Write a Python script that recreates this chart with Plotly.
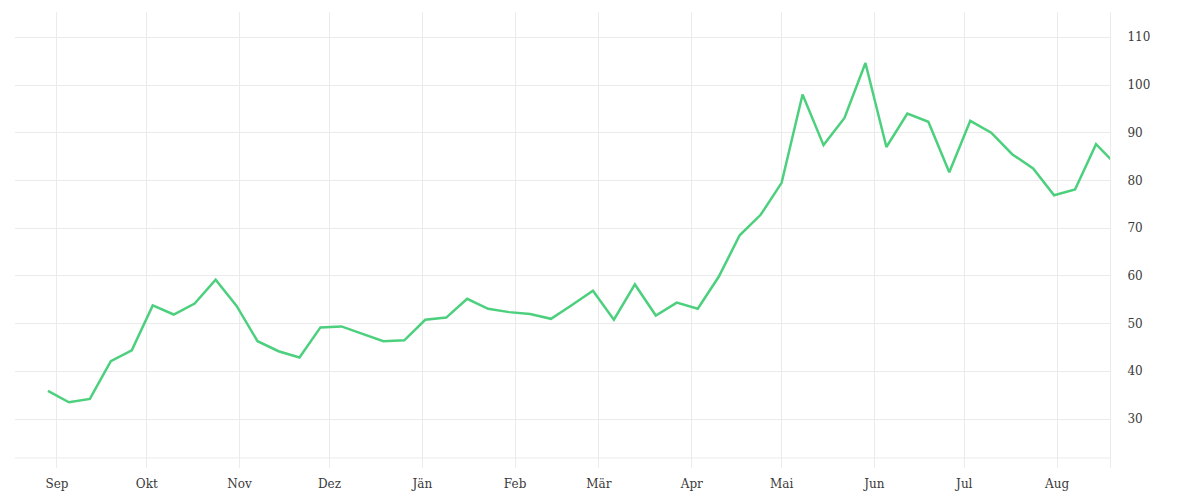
import pandas as pd
import plotly.graph_objects as go

# weekly values, first week starts end of August
start_date = "2022-08-29"
values = [35.9, 33.5, 34.2, 42.1, 44.4, 53.8, 51.9, 54.2, 59.2, 53.7,
          46.3, 44.2, 42.9, 49.2, 49.4, 47.8, 46.3, 46.5, 50.8, 51.25,
          55.2, 53.1, 52.4, 52.0, 51.0, 53.9, 56.9, 50.8, 58.2, 51.7,
          54.4, 53.1, 59.8, 68.5, 72.8, 79.5, 98.0, 87.4, 93.1, 104.6,
          87.0, 94.0, 92.3, 81.7, 92.5, 90.0, 85.5, 82.5, 76.9, 78.1,
          87.6, 83.1]
dates = pd.date_range(start_date, periods=len(values), freq="7D")

month_ticks = ["2022-09-01", "2022-10-01", "2022-11-01", "2022-12-01",
               "2023-01-01", "2023-02-01", "2023-03-01", "2023-04-01",
               "2023-05-01", "2023-06-01", "2023-07-01", "2023-08-01"]
month_labels = ["Sep", "Okt", "Nov", "Dez", "Jän", "Feb", "Mär", "Apr",
                "Mai", "Jun", "Jul", "Aug"]
y_ticks = [30, 40, 50, 60, 70, 80, 90, 100, 110]

grid = "#ebebeb"
font = dict(family="DejaVu Serif", size=12, color="#3a3a3a")

fig = go.Figure()
fig.add_trace(go.Scatter(x=dates, y=values, mode="lines",
                         line=dict(color="#4cd07d", width=2.5),
                         hoverinfo="x+y"))

# faint base line just above the bottom edge
fig.add_shape(type="line", xref="paper", yref="paper", x0=0, x1=1,
              y0=0.022, y1=0.022, line=dict(color=grid, width=1),
              layer="below")

# page body keeps its 8px margin, so the figure is 16px smaller
fig.update_layout(
    width=1184, height=484,
    margin=dict(l=7, r=82, t=4, b=24),
    paper_bgcolor="white", plot_bgcolor="white",
    showlegend=False, font=font,
)
fig.update_xaxes(
    range=["2022-08-18", "2023-08-18 16:00"],
    tickvals=month_ticks, ticktext=month_labels,
    showgrid=True, gridcolor=grid, gridwidth=1,
    zeroline=False, showline=False,
    ticklabelstandoff=7, automargin=False,
)
fig.update_yaxes(
    side="right", range=[19.73, 115.3], tickvals=y_ticks,
    showgrid=True, gridcolor=grid, gridwidth=1,
    zeroline=False, showline=True, linecolor=grid, linewidth=1,
    ticklabelstandoff=14, automargin=False,
)

fig.write_html("out.html")
